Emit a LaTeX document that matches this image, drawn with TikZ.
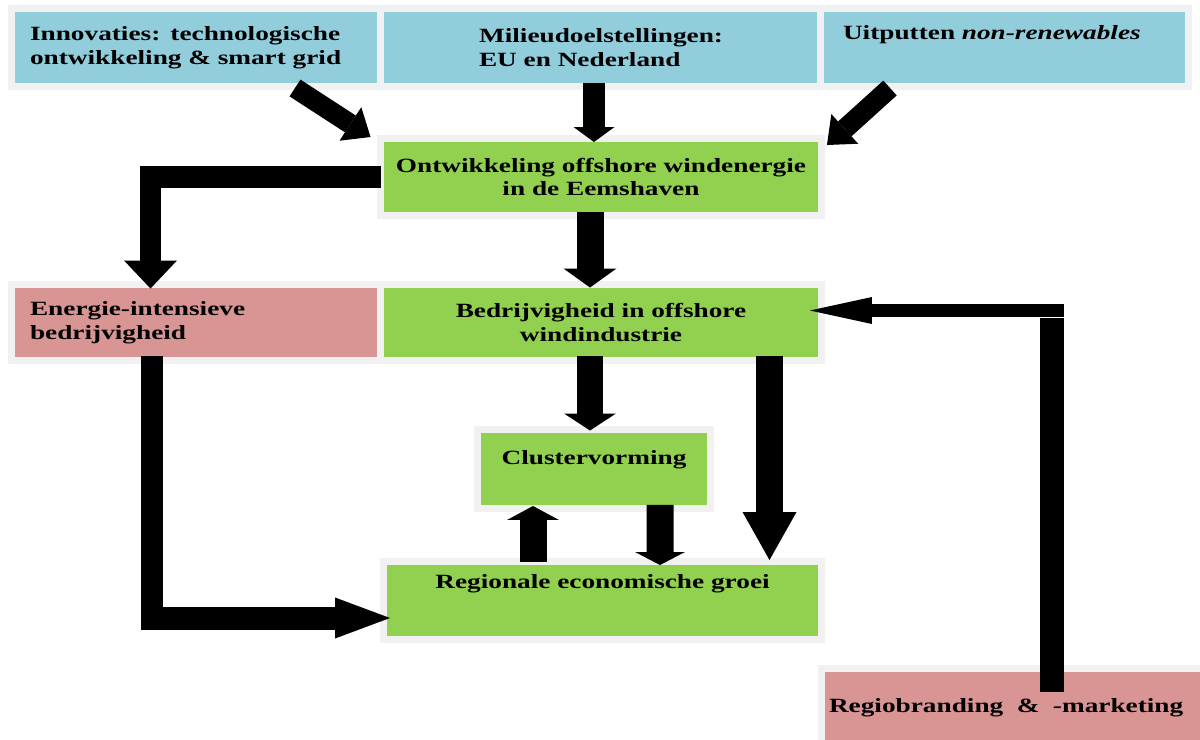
\documentclass[tikz,border=0pt]{standalone}
\usepackage{fontspec}
\setmainfont{Liberation Serif}[FakeStretch=1.35]
\usetikzlibrary{arrows.meta,calc}
\definecolor{lblue}{HTML}{92CDDC}
\definecolor{lgreen}{HTML}{92D050}
\definecolor{lred}{HTML}{D99594}
\definecolor{rim}{HTML}{F1F1F1}
\begin{document}
\begin{tikzpicture}[x=0.02cm,y=-0.02cm,
   box/.style={draw=rim,line width=0.14cm,outer sep=0pt,font=\fontsize{11.5}{13.6}\selectfont\bfseries},
   arr/.style n args={3}{line width=#1cm,-{Triangle[width=#2cm,length=#3cm,line width=0pt]}}]
\useasboundingbox (0,0) rectangle (1200,740);
\node[box,fill=lblue,minimum width=7.38cm,minimum height=1.56cm,text width=6.64cm,inner xsep=0.37cm,align=left] (inn) at (196,47.5) {Innovaties: technologische\\ontwikkeling \& smart grid};
\node[box,fill=lblue,minimum width=8.82cm,minimum height=1.56cm,align=left] (mil) at (601,47.5) {Milieudoelstellingen:\\EU en Nederland};
\node[box,fill=lblue,minimum width=7.36cm,minimum height=1.56cm,text width=6.46cm,inner xsep=0.45cm,align=left] (uit) at (1004.5,47.5) {Uitputten \textit{non-renewables}\\[4pt]\mbox{}};
\node[box,fill=lgreen,minimum width=8.82cm,minimum height=1.54cm,align=center] (ont) at (601,177) {Ontwikkeling offshore windenergie\\in de Eemshaven};
\node[box,fill=lred,minimum width=7.38cm,minimum height=1.52cm,text width=6.64cm,inner xsep=0.37cm,align=left] (ene) at (196,322.5) {Energie-intensieve\\bedrijvigheid};
\node[box,fill=lgreen,minimum width=8.82cm,minimum height=1.52cm,align=center] (bed) at (601,322.5) {Bedrijvigheid in offshore\\windindustrie};
\node[box,fill=lgreen,minimum width=4.66cm,minimum height=1.58cm,align=center] (clu) at (594,469) {Clustervorming\\\mbox{}};
\node[box,fill=lgreen,minimum width=8.76cm,minimum height=1.56cm,align=center] (reg) at (602.5,600.5) {Regionale economische groei\\[8pt]\mbox{}};
\node[box,fill=lred,minimum width=7.74cm,minimum height=1.58cm,text width=7.44cm,inner xsep=0.15cm,align=left] (rbm) at (1015,708) {Regiobranding\ \ \&\ \ -marketing};
\draw[arr={0.40}{0.80}{0.48}] ($(inn.south)+(99,1.5)$) -- ($(ont.north west)+(-10,-1.5)$);
\draw[arr={0.44}{0.82}{0.30}] ($(mil.south)+(-7,-3.5)$) -- ($(ont.north)+(-7,3.5)$);
\draw[arr={0.40}{0.80}{0.48}] ($(uit.south)+(-114.5,1.5)$) -- ($(ont.north east)+(5.5,6.5)$);
\draw[arr={0.44}{1.06}{0.56}] (ont.west) -| ($(ene.north)+(-45.5,4)$);
\draw[arr={0.54}{1.06}{0.38}] ($(ont.south)+(-11,-3.5)$) -- ($(bed.north)+(-11,3)$);
\draw[arr={0.52}{1.04}{0.34}] ($(bed.south)+(-11,-4)$) -- ($(clu.north)+(-4,1)$);
\draw[arr={0.54}{1.08}{0.96}] ($(bed.south)+(168.5,-4)$) -- ($(reg.north)+(167,-1.5)$);
\draw[arr={0.54}{1.04}{0.28}] ($(reg.north)+(-69.5,0.5)$) -- ($(clu.south)+(-61,-2.5)$);
\draw[arr={0.54}{1.00}{0.26}] ($(clu.south)+(66,-3.5)$) -- ($(reg.north)+(57.5,3.5)$);
\draw[arr={0.46}{0.82}{1.10}] ($(ene.south)+(-44,-4)$) |- ($(reg.west)+(6.5,17.5)$);
\coordinate (bend) at (1052,310.5);
\draw[line width=0.48cm] ($(rbm.north)+(37,23.5)$) -- ($(bend)+(0,7.5)$);
\draw[arr={0.26}{0.54}{1.24}] ($(bend)+(12,0)$) -- ($(bed.east)+(-11.5,-12)$);
\end{tikzpicture}
\end{document}
